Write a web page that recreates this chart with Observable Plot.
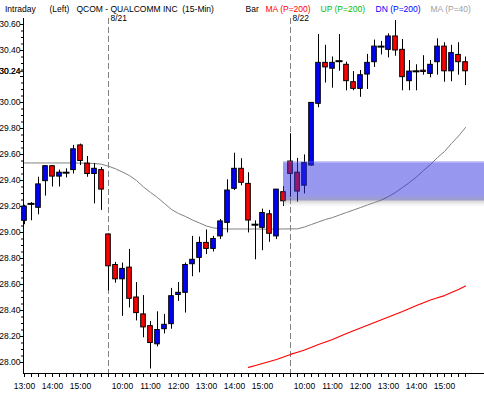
<!DOCTYPE html>
<html><head><meta charset="utf-8">
<script src="https://cdn.jsdelivr.net/npm/d3@7"></script>
<script src="https://cdn.jsdelivr.net/npm/@observablehq/plot@0.6"></script>
<style>html,body{margin:0;padding:0;background:#fff;}</style>
</head><body><div id="chart"></div>
<script>
// 15-minute bars: 8/20 13:00-15:45, 8/21 9:30-15:45, 8/22 9:30-15:45
const opens  = [29.09,29.22,29.19,29.395,29.51,29.43,29.46,29.48,29.67,29.53,29.45,29.48,
  28.985,28.75,28.64,28.73,28.50,28.37,28.28,28.14,28.256,28.295,28.52,28.536,28.756,28.805,28.92,28.874,28.97,29.074,29.336,29.49,29.374,29.06,29.036,29.14,28.97,29.31,
  29.546,29.46,29.36,29.515,29.99,30.305,30.26,30.318,30.29,30.156,30.105,30.215,30.31,30.43,30.405,30.508,30.405,30.164,30.24,30.245,30.22,30.31,30.43,30.24,30.366,30.31];
const highs  = [29.21,29.23,29.425,29.515,29.515,29.48,29.49,29.67,29.68,29.585,29.53,29.50,
  28.99,28.77,28.765,28.87,28.615,28.515,28.315,28.39,28.37,28.57,28.615,28.765,28.97,28.965,29.02,28.97,29.10,29.405,29.61,29.567,29.46,29.09,29.18,29.17,29.33,29.354,
  29.76,29.57,29.597,30.00,30.523,30.44,30.35,30.523,30.31,30.238,30.246,30.37,30.48,30.47,30.528,30.63,30.485,30.323,30.29,30.36,30.323,30.49,30.46,30.44,30.46,30.35];
const lows   = [29.06,29.09,29.136,29.28,29.35,29.35,29.42,29.45,29.515,29.425,29.22,29.17,
  28.55,28.61,28.355,28.42,28.32,28.19,27.95,28.12,28.22,28.256,28.47,28.38,28.66,28.69,28.83,28.85,28.946,28.997,29.323,29.36,28.997,28.79,28.86,28.925,28.946,29.20,
  29.27,29.233,29.297,29.51,29.96,30.15,30.11,30.24,30.09,30.09,30.04,30.10,30.27,30.366,30.343,30.356,30.09,30.09,30.09,30.21,30.19,30.21,30.156,30.16,30.21,30.13];
const closes = [29.20,29.22,29.37,29.51,29.43,29.46,29.46,29.64,29.55,29.45,29.49,29.33,
  28.74,28.64,28.72,28.49,28.38,28.27,28.15,28.25,28.29,28.51,28.536,28.75,28.79,28.92,28.874,28.95,29.085,29.323,29.49,29.382,29.092,29.06,29.15,28.99,29.33,29.24,
  29.451,29.315,29.535,29.997,30.305,30.27,30.305,30.318,30.164,30.105,30.21,30.305,30.43,30.43,30.508,30.40,30.195,30.238,30.24,30.235,30.29,30.43,30.24,30.38,30.31,30.24];
// MA (P=40), grey
const ma40 = [29.535,29.535,29.535,29.535,29.535,29.535,29.535,29.535,29.534,29.533,29.531,29.525,
  29.51,29.49,29.465,29.438,29.40,29.35,29.308,29.269,29.223,29.177,29.146,29.123,29.096,29.073,29.05,29.035,29.031,29.027,29.027,29.027,29.027,29.027,29.026,29.026,29.027,29.027,
  29.028,29.028,29.042,29.062,29.081,29.10,29.115,29.135,29.154,29.173,29.192,29.212,29.231,29.25,29.277,29.308,29.346,29.385,29.427,29.477,29.523,29.577,29.623,29.685,29.742,29.808];
// MA (P=200), red (only visible from bar 32 on)
const ma200 = [null,null,null,null,null,null,null,null,null,null,null,null,
  null,null,null,null,null,null,null,null,null,null,null,null,null,null,null,null,null,null,null,null,27.962,27.977,27.992,28.008,28.023,28.042,
  28.062,28.079,28.096,28.117,28.138,28.158,28.177,28.200,28.223,28.244,28.265,28.287,28.308,28.329,28.35,28.371,28.392,28.415,28.438,28.46,28.481,28.498,28.515,28.538,28.562,28.588];
// time axis
const hourIdx    = [0,4,8,14,18,22,26,30,34,40,44,48,52,56,60];
const hourLabels = ["13:00","14:00","15:00","10:00","11:00","12:00","13:00","14:00","15:00","10:00","11:00","12:00","13:00","14:00","15:00"];
const dayIdx     = [12,38];
const dayLabels  = ["8/21","8/22"];
// price axis
const yTicks = [28.00,28.20,28.40,28.60,28.80,29.00,29.20,29.40,29.60,29.80,30.00,30.20,30.24,30.40,30.60];
const lastPrice = 30.24;
// highlighted zone
const zone = {start: 37, top: 29.546, bottom: 29.19};
const header = [
  {t:"Intraday", x:4.5, c:"#000"},
  {t:"(Left)", x:49, c:"#000"},
  {t:"QCOM - QUALCOMM INC  (15-Min)", x:76, c:"#000"},
  {t:"Bar", x:245, c:"#000"},
  {t:"MA (P=200)", x:265, c:"#ff0000"},
  {t:"UP (P=200)", x:320, c:"#00c000"},
  {t:"DN (P=200)", x:375, c:"#0000ff"},
  {t:"MA (P=40)", x:430, c:"#a0a0a0"}
];

const bars = opens.map((o,i)=>({i, o, h: highs[i], l: lows[i], c: closes[i]}));
const dojis = bars.filter(d => Math.abs(d.o - d.c) < 0.004);
const bodies = bars.filter(d => Math.abs(d.o - d.c) >= 0.004);
const xDomain = [-0.143, 65.714];
const yDomain = [27.9154, 30.6462];
const pxPerY = 355 / (yDomain[1]-yDomain[0]);
const pxPerX = 461 / (xDomain[1]-xDomain[0]);
const minorY = d3.range(28.05, 30.65, 0.05).filter(v => Math.abs(Math.round(v*5)/5 - v) > 0.01);
const ma40Pts = ma40.map((v,i)=>({i, v}));
const ma200Pts = ma200.map((v,i)=>({i, v})).filter(d => d.v != null);
const hw = 0.33;

const chart = Plot.plot({
  width: 484, height: 393,
  marginLeft: 23, marginRight: 0, marginTop: 18, marginBottom: 20,
  style: {fontFamily: "'Liberation Sans', Arial, sans-serif", fontSize: "8.5px", background: "#fff", color: "#000", overflow: "visible"},
  x: {domain: xDomain, ticks: hourIdx, tickFormat: d => hourLabels[hourIdx.indexOf(d)], tickSize: 4, tickPadding: 5, line: true, label: null},
  y: {domain: yDomain, ticks: yTicks, tickFormat: d => Math.abs(d-30.2) < 0.001 ? "" : d.toFixed(2), tickSize: 3, tickPadding: 0, line: true, label: null},
  marks: [
    // per-bar ticks on time axis
    Plot.ruleX(bars, {x: "i", y1: yDomain[0], y2: yDomain[0] - 4/pxPerY, stroke: "#000"}),
    // minor price ticks
    Plot.ruleY(minorY, {y: d => d, x1: xDomain[0] - 2/pxPerX, x2: xDomain[0], stroke: "#000"}),
    // day separators
    Plot.ruleX(dayIdx, {x: d => d, stroke: "#808080", strokeDasharray: "6,3"}),
    Plot.text(dayLabels, {x: (d,k) => dayIdx[k], frameAnchor: "top", dy: -4, dx: 2, textAnchor: "start", text: d => d, fill: "#000"}),
    // moving averages
    Plot.line(ma40Pts, {x: "i", y: "v", stroke: "#808080", strokeWidth: 1}),
    Plot.line(ma200Pts, {x: "i", y: "v", stroke: "#ff0000", strokeWidth: 1.2}),
    // candles
    Plot.ruleX(bars, {x: "i", y1: "l", y2: "h", stroke: "#000", strokeWidth: 1}),
    Plot.rect(bodies, {x1: d => d.i - hw, x2: d => d.i + hw, y1: "o", y2: "c",
      fill: d => d.c > d.o ? "#0000ff" : "#ff0000", stroke: "#000", strokeWidth: 1}),
    Plot.ruleY(dojis, {y: "c", x1: d => d.i - 0.5, x2: d => d.i + 0.5, stroke: "#000", strokeWidth: 2}),
    // highlighted zone
    Plot.rect([zone], {x1: "start", x2: () => xDomain[1], y1: "bottom", y2: "top", fill: "url(#zoneGrad)"}),
    // header
    ...header.map(h => Plot.text([h], {frameAnchor: "top-left", dx: h.x - 23, dy: -13, textAnchor: "start", text: "t", fill: h.c})),
    // last price tag
    Plot.text([lastPrice], {y: d => d, frameAnchor: "left", dx: -3, textAnchor: "end", text: d => d.toFixed(2), fill: "#000"})
  ]
});

const ns = "http://www.w3.org/2000/svg";
const defs = document.createElementNS(ns, "defs");
const grad = document.createElementNS(ns, "linearGradient");
grad.setAttribute("id", "zoneGrad");
grad.setAttribute("x1", "0"); grad.setAttribute("y1", "0");
grad.setAttribute("x2", "0"); grad.setAttribute("y2", "1");
[[0, "#8080f0", 0.35], [0.05, "#3030e0", 0.5], [0.72, "#3030e0", 0.5], [0.84, "#40409a", 0.5],
 [0.87, "#909090", 0.35], [1, "#d0d0d0", 0]].forEach(([o, c, a]) => {
  const s = document.createElementNS(ns, "stop");
  s.setAttribute("offset", o); s.setAttribute("stop-color", c); s.setAttribute("stop-opacity", a);
  grad.appendChild(s);
});
defs.appendChild(grad);
chart.insertBefore(defs, chart.firstChild);
document.getElementById("chart").appendChild(chart);
</script></body></html>
